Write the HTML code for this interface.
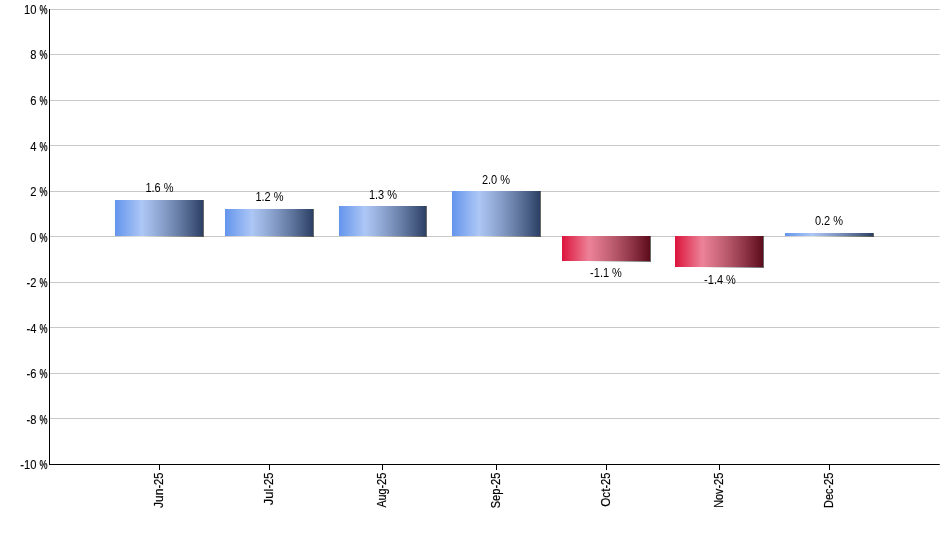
<!DOCTYPE html>
<html lang="en">
<head>
<meta charset="utf-8">
<title>Monthly Returns</title>
<style>
html,body{margin:0;padding:0;background:#fff;}
body{width:940px;height:550px;overflow:hidden;}
svg{display:block;}
text{font-family:"Liberation Sans",Arial,sans-serif;font-size:12px;fill:#000;stroke:#000;stroke-width:0.2px;}
.d text{stroke:none;}
.y text{stroke-width:0.1px;}
.y .p{stroke-width:0.25px;}
</style>
</head>
<body>
<svg width="940" height="550" viewBox="0 0 940 550">
<defs>
<linearGradient id="hl" x1="0" y1="0" x2="1" y2="0">
<stop offset="0" stop-color="#fff" stop-opacity="0"/>
<stop offset="1" stop-color="#fff" stop-opacity="0.47"/>
</linearGradient>
<linearGradient id="sh" x1="0" y1="0" x2="1" y2="0">
<stop offset="0" stop-color="#fff" stop-opacity="0.47"/>
<stop offset="1" stop-color="#000" stop-opacity="0.59"/>
</linearGradient>
</defs>
<rect x="0" y="0" width="940" height="550" fill="#fff"/>
<g shape-rendering="crispEdges">
<rect x="50" y="9" width="889" height="1" fill="#c8c8c8"/>
<rect x="939" y="9" width="1" height="1" fill="#e0e0e0"/>
<rect x="50" y="54" width="889" height="1" fill="#c8c8c8"/>
<rect x="939" y="54" width="1" height="1" fill="#e0e0e0"/>
<rect x="50" y="100" width="889" height="1" fill="#c8c8c8"/>
<rect x="939" y="100" width="1" height="1" fill="#e0e0e0"/>
<rect x="50" y="145" width="889" height="1" fill="#c8c8c8"/>
<rect x="939" y="145" width="1" height="1" fill="#e0e0e0"/>
<rect x="50" y="191" width="889" height="1" fill="#c8c8c8"/>
<rect x="939" y="191" width="1" height="1" fill="#e0e0e0"/>
<rect x="50" y="236" width="889" height="1" fill="#c8c8c8"/>
<rect x="939" y="236" width="1" height="1" fill="#e0e0e0"/>
<rect x="50" y="282" width="889" height="1" fill="#c8c8c8"/>
<rect x="939" y="282" width="1" height="1" fill="#e0e0e0"/>
<rect x="50" y="327" width="889" height="1" fill="#c8c8c8"/>
<rect x="939" y="327" width="1" height="1" fill="#e0e0e0"/>
<rect x="50" y="373" width="889" height="1" fill="#c8c8c8"/>
<rect x="939" y="373" width="1" height="1" fill="#e0e0e0"/>
<rect x="50" y="418" width="889" height="1" fill="#c8c8c8"/>
<rect x="939" y="418" width="1" height="1" fill="#e0e0e0"/>
</g>
<g shape-rendering="crispEdges">
<rect x="115" y="200" width="88" height="36" fill="#6495ed"/>
<rect x="115" y="200" width="27" height="37" fill="url(#hl)"/>
<rect x="142" y="200" width="62" height="37" fill="url(#sh)"/>
<rect x="225" y="209" width="88" height="27" fill="#6495ed"/>
<rect x="225" y="209" width="27" height="28" fill="url(#hl)"/>
<rect x="252" y="209" width="62" height="28" fill="url(#sh)"/>
<rect x="339" y="206" width="87" height="30" fill="#6495ed"/>
<rect x="339" y="206" width="26" height="31" fill="url(#hl)"/>
<rect x="365" y="206" width="62" height="31" fill="url(#sh)"/>
<rect x="452" y="191" width="88" height="45" fill="#6495ed"/>
<rect x="452" y="191" width="27" height="46" fill="url(#hl)"/>
<rect x="479" y="191" width="62" height="46" fill="url(#sh)"/>
<rect x="562" y="236" width="88" height="25" fill="#dc143c"/>
<rect x="562" y="236" width="27" height="26" fill="url(#hl)"/>
<rect x="589" y="236" width="62" height="26" fill="url(#sh)"/>
<rect x="675" y="236" width="88" height="31" fill="#dc143c"/>
<rect x="675" y="236" width="27" height="32" fill="url(#hl)"/>
<rect x="702" y="236" width="62" height="32" fill="url(#sh)"/>
<rect x="785" y="233" width="88" height="3" fill="#6495ed"/>
<rect x="785" y="233" width="27" height="4" fill="url(#hl)"/>
<rect x="812" y="233" width="62" height="4" fill="url(#sh)"/>
</g>
<g shape-rendering="crispEdges" fill="#000">
<rect x="49" y="9" width="1" height="456"/>
<rect x="49" y="464" width="890" height="1"/>
<rect x="939" y="464" width="1" height="1" fill="#484848"/>
<rect x="159" y="464" width="1" height="6"/>
<rect x="269" y="464" width="1" height="6"/>
<rect x="382" y="464" width="1" height="6"/>
<rect x="496" y="464" width="1" height="6"/>
<rect x="606" y="464" width="1" height="6"/>
<rect x="719" y="464" width="1" height="6"/>
<rect x="829" y="464" width="1" height="6"/>
</g>
<g class="y">
<text x="24.0" y="14"><tspan textLength="15.6" lengthAdjust="spacingAndGlyphs">10 </tspan><tspan class="p" textLength="8.0" lengthAdjust="spacingAndGlyphs">%</tspan></text>
<text x="30.3" y="59"><tspan textLength="9.3" lengthAdjust="spacingAndGlyphs">8 </tspan><tspan class="p" textLength="8.0" lengthAdjust="spacingAndGlyphs">%</tspan></text>
<text x="30.3" y="105"><tspan textLength="9.3" lengthAdjust="spacingAndGlyphs">6 </tspan><tspan class="p" textLength="8.0" lengthAdjust="spacingAndGlyphs">%</tspan></text>
<text x="30.3" y="151"><tspan textLength="9.3" lengthAdjust="spacingAndGlyphs">4 </tspan><tspan class="p" textLength="8.0" lengthAdjust="spacingAndGlyphs">%</tspan></text>
<text x="30.3" y="196"><tspan textLength="9.3" lengthAdjust="spacingAndGlyphs">2 </tspan><tspan class="p" textLength="8.0" lengthAdjust="spacingAndGlyphs">%</tspan></text>
<text x="30.3" y="242"><tspan textLength="9.3" lengthAdjust="spacingAndGlyphs">0 </tspan><tspan class="p" textLength="8.0" lengthAdjust="spacingAndGlyphs">%</tspan></text>
<text x="26.6" y="287"><tspan textLength="13.0" lengthAdjust="spacingAndGlyphs">-2 </tspan><tspan class="p" textLength="8.0" lengthAdjust="spacingAndGlyphs">%</tspan></text>
<text x="26.6" y="333"><tspan textLength="13.0" lengthAdjust="spacingAndGlyphs">-4 </tspan><tspan class="p" textLength="8.0" lengthAdjust="spacingAndGlyphs">%</tspan></text>
<text x="26.6" y="378"><tspan textLength="13.0" lengthAdjust="spacingAndGlyphs">-6 </tspan><tspan class="p" textLength="8.0" lengthAdjust="spacingAndGlyphs">%</tspan></text>
<text x="26.6" y="424"><tspan textLength="13.0" lengthAdjust="spacingAndGlyphs">-8 </tspan><tspan class="p" textLength="8.0" lengthAdjust="spacingAndGlyphs">%</tspan></text>
<text x="20.3" y="469"><tspan textLength="19.3" lengthAdjust="spacingAndGlyphs">-10 </tspan><tspan class="p" textLength="8.0" lengthAdjust="spacingAndGlyphs">%</tspan></text>
</g>
<g>
<text transform="translate(163,508.0) rotate(-90)" x="0" y="0"><tspan textLength="19.4" lengthAdjust="spacingAndGlyphs">Jun</tspan><tspan textLength="16.1" lengthAdjust="spacingAndGlyphs">-25</tspan></text>
<text transform="translate(273,505.2) rotate(-90)" x="0" y="0"><tspan textLength="16.6" lengthAdjust="spacingAndGlyphs">Jul</tspan><tspan textLength="16.1" lengthAdjust="spacingAndGlyphs">-25</tspan></text>
<text transform="translate(386,507.6) rotate(-90)" x="0" y="0"><tspan textLength="19.0" lengthAdjust="spacingAndGlyphs">Aug</tspan><tspan textLength="16.1" lengthAdjust="spacingAndGlyphs">-25</tspan></text>
<text transform="translate(500,508.3) rotate(-90)" x="0" y="0"><tspan textLength="19.7" lengthAdjust="spacingAndGlyphs">Sep</tspan><tspan textLength="16.1" lengthAdjust="spacingAndGlyphs">-25</tspan></text>
<text transform="translate(610,506.7) rotate(-90)" x="0" y="0"><tspan textLength="18.1" lengthAdjust="spacingAndGlyphs">Oct</tspan><tspan textLength="16.1" lengthAdjust="spacingAndGlyphs">-25</tspan></text>
<text transform="translate(723,507.8) rotate(-90)" x="0" y="0"><tspan textLength="19.2" lengthAdjust="spacingAndGlyphs">Nov</tspan><tspan textLength="16.1" lengthAdjust="spacingAndGlyphs">-25</tspan></text>
<text transform="translate(833,507.9) rotate(-90)" x="0" y="0"><tspan textLength="19.3" lengthAdjust="spacingAndGlyphs">Dec</tspan><tspan textLength="16.1" lengthAdjust="spacingAndGlyphs">-25</tspan></text>
</g>
<g class="d" text-anchor="middle">
<text transform="translate(159.5,192) scale(0.9167,1)" x="0" y="0">1.6 %</text>
<text transform="translate(269.5,201) scale(0.9167,1)" x="0" y="0">1.2 %</text>
<text transform="translate(383,199) scale(0.9167,1)" x="0" y="0">1.3 %</text>
<text transform="translate(496,184) scale(0.9167,1)" x="0" y="0">2.0 %</text>
<text transform="translate(606,277) scale(0.9167,1)" x="0" y="0">-1.1 %</text>
<text transform="translate(720,284) scale(0.9167,1)" x="0" y="0">-1.4 %</text>
<text transform="translate(829,225) scale(0.9167,1)" x="0" y="0">0.2 %</text>
</g>
</svg>
</body>
</html>
